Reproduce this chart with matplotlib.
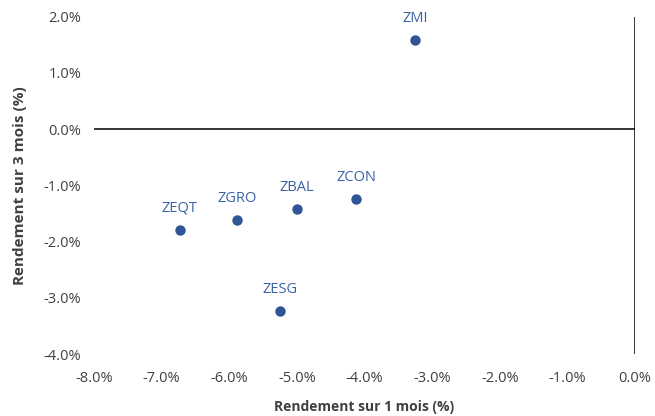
import matplotlib.pyplot as plt
from matplotlib.ticker import FuncFormatter

# données (rendements en %)
fonds = ["ZMI", "ZCON", "ZBAL", "ZGRO", "ZEQT", "ZESG"]
rend_1m = [-3.25, -4.12, -5.00, -5.88, -6.73, -5.25]
rend_3m = [1.59, -1.24, -1.42, -1.61, -1.79, -3.23]

plt.rcParams['font.family'] = ['Open Sans', 'DejaVu Sans']

fig = plt.figure(figsize=(6.55, 4.16), dpi=100)
ax = fig.add_axes([0.1435, 0.149, 0.826, 0.811])

ax.scatter(rend_1m, rend_3m, s=42, color='#2F5597', zorder=3)
for nom, x, y in zip(fonds, rend_1m, rend_3m):
    ax.annotate(nom, (x, y), xytext=(0, 10), textcoords='offset points',
                ha='center', va='bottom', fontsize=10.5, color='#3A62A8')

ax.set_xlim(-8, 0)
ax.set_ylim(-4, 2)
ax.set_xticks(range(-8, 1))
ax.set_yticks(range(-4, 3))
ax.xaxis.set_major_formatter(FuncFormatter(lambda v, p: f"{v:.1f}%"))
ax.yaxis.set_major_formatter(FuncFormatter(lambda v, p: f"{v:.1f}%"))
ax.tick_params(length=0, labelsize=10.5, colors='#404040')
ax.tick_params(axis='x', pad=12)
ax.tick_params(axis='y', pad=9)

for s in ax.spines.values():
    s.set_visible(False)
ax.axhline(0, color='black', lw=1.1, zorder=1)
ax.axvline(0, color='black', lw=1.1, zorder=1)

ax.set_xlabel("Rendement sur 1 mois (%)", fontsize=10, fontweight='bold', color='#404040', labelpad=10)
ax.set_ylabel("Rendement sur 3 mois (%)", fontsize=11, fontweight='bold', color='#404040', labelpad=12)

fig.savefig("out.png", dpi=100)
